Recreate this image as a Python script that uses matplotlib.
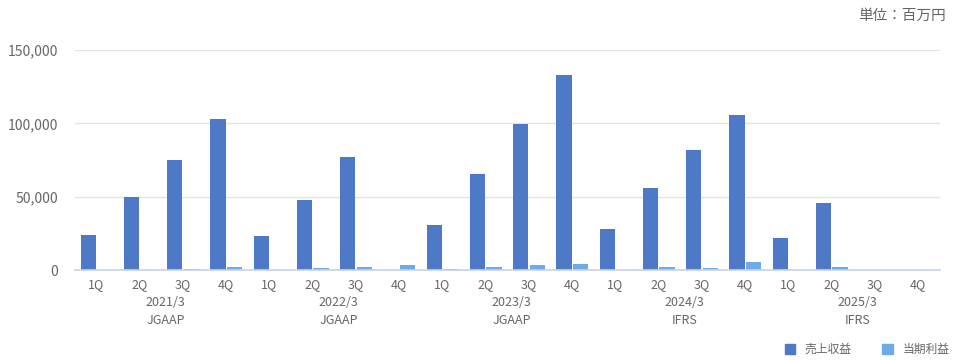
import matplotlib
matplotlib.use("Agg")
import matplotlib.pyplot as plt
import matplotlib.transforms as mtransforms
from matplotlib.patches import Patch
import numpy as np

plt.rcParams['font.family'] = ['Noto Sans CJK JP', 'DejaVu Sans']

quarters = ["1Q", "2Q", "3Q", "4Q"] * 5
fiscal_years = ["2021/3", "2022/3", "2023/3", "2024/3", "2025/3"]
standards = ["JGAAP", "JGAAP", "JGAAP", "IFRS", "IFRS"]

revenue = [24000, 49800, 75000, 103000,
           23200, 47700, 77100, 0,
           30700, 65500, 99600, 133000,
           28000, 56000, 82000, 105700,
           21800, 45700, np.nan, np.nan]
net_income = [0, 0, 700, 2000,
              0, 1400, 2000, 3400,
              700, 2000, 3400, 4100,
              0, 2000, 1400, 5500,
              0, 2000, np.nan, np.nan]

c_rev = "#4e79c7"
c_ni = "#6fabe8"
txt = "#666666"

fig = plt.figure(figsize=(9.6, 3.6), dpi=100)
ax = fig.add_axes([0.078, 0.25, 0.901, 0.611])

x = np.arange(len(quarters))
w = 0.35
ax.bar(x - 0.19, revenue, width=w, color=c_rev, zorder=3)
ax.bar(x + 0.19, net_income, width=w, color=c_ni, zorder=3)

ax.set_xlim(-0.5, len(quarters) - 0.5)
ax.set_ylim(0, 150000)
ax.set_yticks([0, 50000, 100000, 150000])
ax.set_yticklabels([f"{v:,}" for v in [0, 50000, 100000, 150000]], color=txt, fontsize=10)
ax.set_xticks(x)
ax.set_xticklabels(quarters, color=txt, fontsize=9)
ax.tick_params(axis='both', length=0)
ax.tick_params(axis='x', pad=6)
ax.tick_params(axis='y', pad=12)
ax.grid(axis='y', color="#e3e3e3", linewidth=1, zorder=0)
for s in ["top", "right", "left"]:
    ax.spines[s].set_visible(False)
ax.spines["bottom"].set_color("#c6d2e8")
ax.spines["bottom"].set_linewidth(1.2)
ax.spines["bottom"].set_zorder(4)

trans = mtransforms.blended_transform_factory(ax.transData, ax.transAxes)
for i, (fy, st) in enumerate(zip(fiscal_years, standards)):
    cx = i * 4 + 1.6
    ax.text(cx, -0.15, fy, transform=trans, ha='center', va='center', color=txt, fontsize=9)
    ax.text(cx, -0.23, st, transform=trans, ha='center', va='center', color=txt, fontsize=9)

fig.text(0.985, 0.955, "単位：百万円", ha='right', va='center', color=txt, fontsize=10.5)

handles = [Patch(color=c_rev, label="売上収益"), Patch(color=c_ni, label="当期利益")]
fig.legend(handles=handles, loc='center right', bbox_to_anchor=(1.0, 0.03), ncol=2,
           frameon=False, fontsize=8.5, handlelength=0.9, handleheight=0.9,
           handletextpad=0.8, columnspacing=2.6, labelcolor=txt)

fig.savefig("out.png", dpi=100)
